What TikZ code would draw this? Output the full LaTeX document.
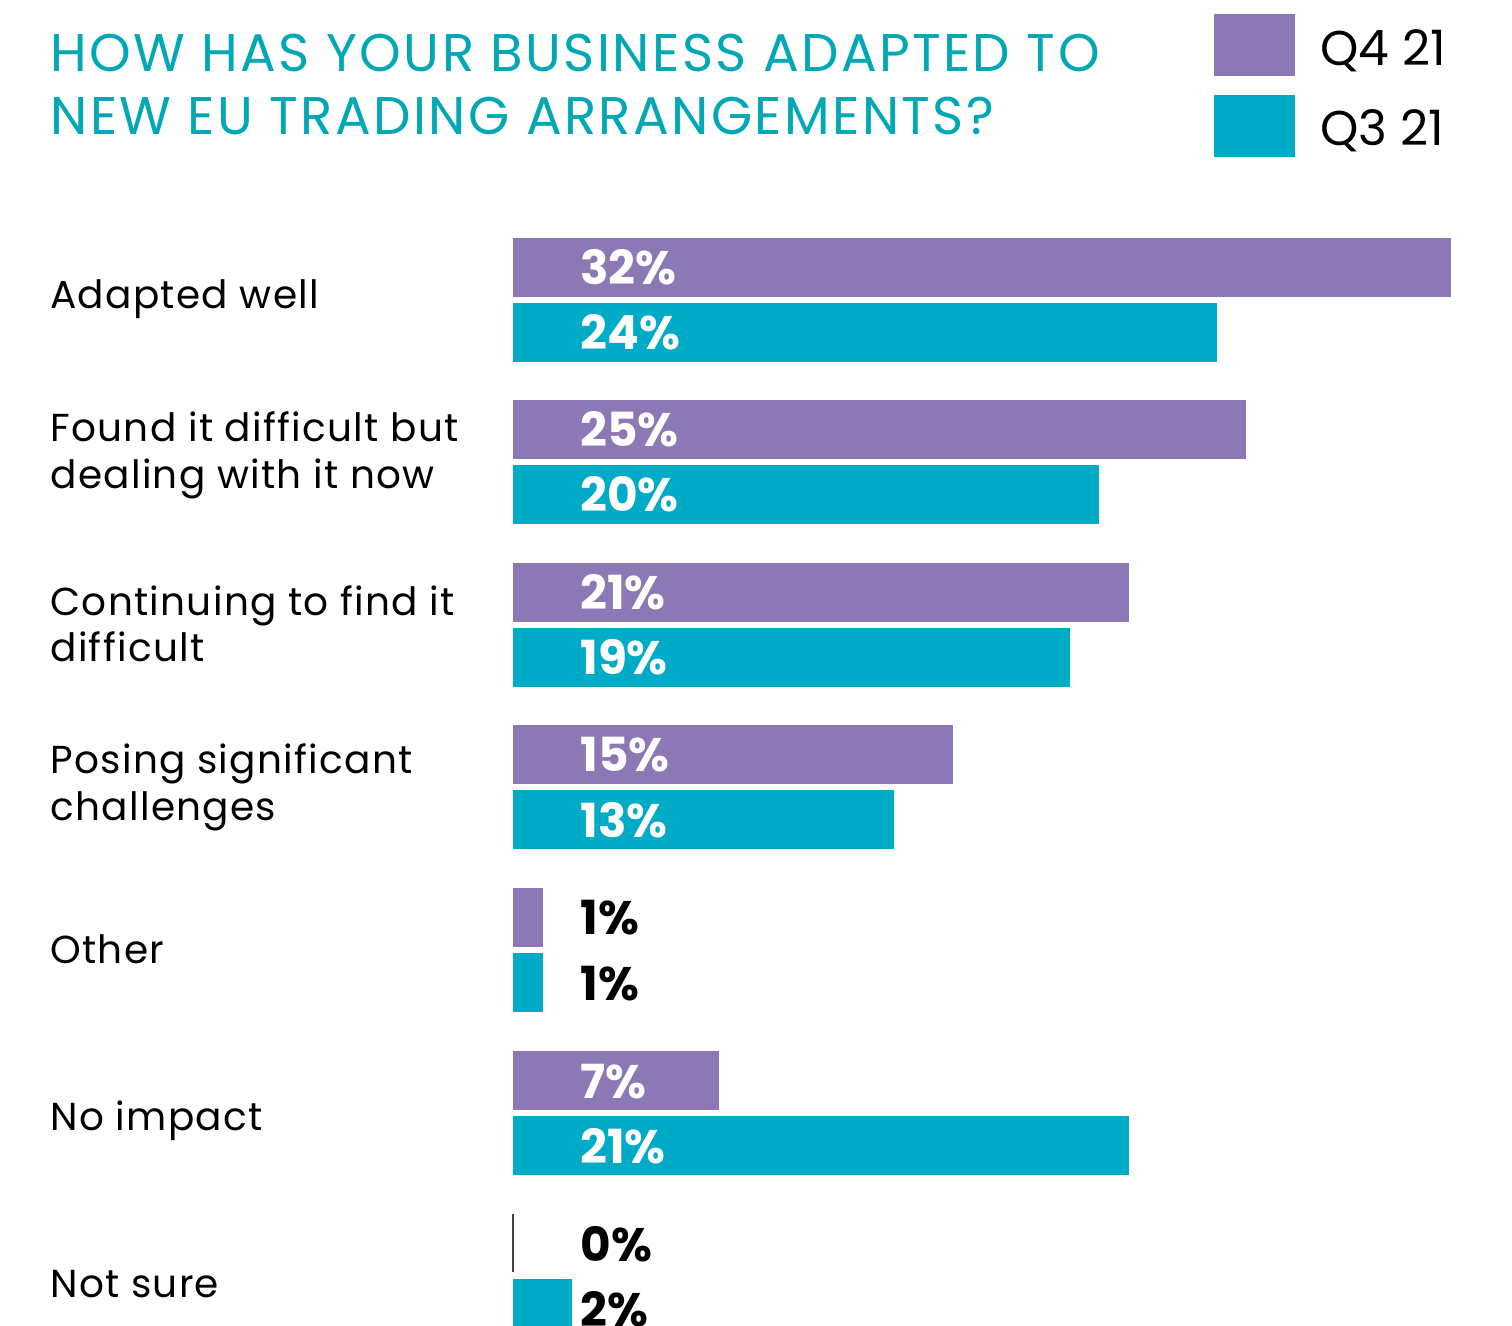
\documentclass[tikz,border=0pt]{standalone}
\usepackage{fontspec}
\setmainfont{Poppins}
\usetikzlibrary{positioning}
\definecolor{qfour}{RGB}{139,120,181}
\definecolor{qthree}{RGB}{0,171,199}
\definecolor{headteal}{RGB}{0,168,182}

\begin{document}
\begin{tikzpicture}[x=0.5pt, y=-0.5pt,
    barfour/.style={fill=qfour},
    barthree/.style={fill=qthree},
    heading/.style={anchor=base west, inner sep=0pt, align=left, text=headteal, font=\fontsize{26.5}{31.5}\selectfont\addfontfeature{LetterSpace=4.5}},
    keytext/.style={anchor=base west, inner sep=0pt, font=\fontsize{24.4}{29}\selectfont},
    catlabel/.style={anchor=base west, inner sep=0pt, align=left, font=\fontsize{19.5}{23.5}\selectfont\addfontfeature{LetterSpace=3.3}},
    pct/.style={anchor=base west, inner sep=0pt, text=white, font=\fontsize{23.5}{28}\selectfont\bfseries},
    pctout/.style={pct, text=black}]
        \useasboundingbox (0,0) rectangle (1512,1326);

        % multi-line nodes sit on the baseline of their last line
        \node[heading] (title) at (50, 135) {HOW HAS YOUR BUSINESS ADAPTED TO\\NEW EU TRADING ARRANGEMENTS?};

        % legend
        \fill[barfour] (1214, 14) rectangle (1295, 76);
        \fill[barthree] (1214, 95) rectangle (1295, 157);
        \node[keytext] (keyfour) at (1320, 66) {Q4 21};
        \node[keytext] (keythree) at (1320, 146) {Q3 21};

        % categories
        \node[catlabel] (adapted) at (50, 309) {Adapted well};
        \node[catlabel] (dealing) at (50, 489) {Found it difficult but\\dealing with it now};
        \node[catlabel] (continuing) at (50, 662) {Continuing to find it\\difficult};
        \node[catlabel] (posing) at (50, 820) {Posing significant\\challenges};
        \node[catlabel] (other) at (50, 963) {Other};
        \node[catlabel] (noimpact) at (50, 1130) {No impact};
        \node[catlabel] (notsure) at (50, 1297) {Not sure};

        % bars, 29.31 per percent
        \fill[barfour] (513, 238) rectangle ++(938, 59);
        \fill[barthree] (513, 303) rectangle ++(704, 59);
        \fill[barfour] (513, 400) rectangle ++(733, 59);
        \fill[barthree] (513, 465) rectangle ++(586, 59);
        \fill[barfour] (513, 563) rectangle ++(616, 59);
        \fill[barthree] (513, 628) rectangle ++(557, 59);
        \fill[barfour] (513, 725) rectangle ++(440, 59);
        \fill[barthree] (513, 790) rectangle ++(381, 59);
        \fill[barfour] (513, 888) rectangle ++(30, 59);
        \fill[barthree] (513, 953) rectangle ++(30, 59);
        \fill[barfour] (513, 1051) rectangle ++(206, 59);
        \fill[barthree] (513, 1116) rectangle ++(616, 59);
        \draw[black!75, line width=1pt] (513, 1214) -- ++(0, 58);
        \fill[barthree] (513, 1279) rectangle ++(59, 59);

        % values
        \node[pct] (adaptedfour) at (580, 285) {32\%};
        \node[pct] (adaptedthree) at (580, 350) {24\%};
        \node[pct] (dealingfour) at (580, 447) {25\%};
        \node[pct] (dealingthree) at (580, 512) {20\%};
        \node[pct] (continuingfour) at (580, 610) {21\%};
        \node[pct] (continuingthree) at (580, 675) {19\%};
        \node[pct] (posingfour) at (580, 772) {15\%};
        \node[pct] (posingthree) at (580, 837) {13\%};
        \node[pctout] (otherfour) at (580, 935) {1\%};
        \node[pctout] (otherthree) at (580, 1000) {1\%};
        \node[pct] (noimpactfour) at (580, 1098) {7\%};
        \node[pct] (noimpactthree) at (580, 1163) {21\%};
        \node[pctout] (notsurefour) at (580, 1261) {0\%};
        \node[pctout] (notsurethree) at (580, 1326) {2\%};
\end{tikzpicture}
\end{document}
